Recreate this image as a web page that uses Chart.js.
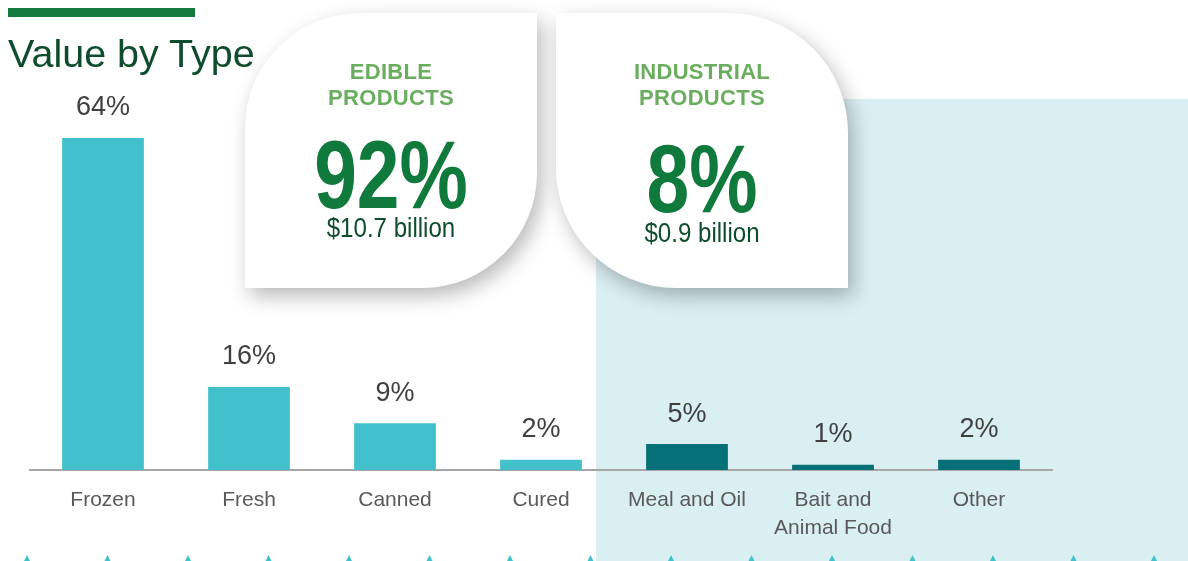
<!DOCTYPE html>
<html>
<head>
<meta charset="utf-8">
<script src="https://cdn.jsdelivr.net/npm/chart.js@4"></script>
<style>
  html, body { margin: 0; padding: 0; background: #fff; }
  body { width: 1188px; height: 561px; position: relative; overflow: hidden; font-family: 'Liberation Sans', Arial, sans-serif; }
  #panel { position: absolute; left: 596px; top: 99px; width: 592px; height: 462px; background: #daeff2; z-index: 0; }
  #chart { position: absolute; left: 0; top: 0; z-index: 1; }
  #topbar { position: absolute; left: 8px; top: 8px; width: 187px; height: 9px; background: #137a3d; z-index: 2; }
  #title { position: absolute; left: 8px; top: 34px; font-size: 39.5px; line-height: 39.5px; color: #0d4d2b; z-index: 2; white-space: nowrap; }
  .card { position: absolute; top: 13px; height: 275px; background: #fff; z-index: 3;
          box-shadow: 5px 8px 20px rgba(0,0,0,0.28); }
  #card1 { left: 245px; width: 292px; border-radius: 115px 0 115px 0; }
  #card2 { left: 556px; width: 292px; border-radius: 0 120px 0 120px; }
  .card div { position: absolute; left: 0; width: 100%; text-align: center; white-space: nowrap; }
  .head { font-size: 22px; line-height: 22px; font-weight: bold; color: #6aad5f; letter-spacing: 0.3px; }
  .big { font-size: 96px; line-height: 96px; font-weight: bold; color: #107a3d; transform: scaleX(0.8); }
  .sub { font-size: 28px; line-height: 28px; color: #0d4d2b; transform: scaleX(0.86); }
</style>
</head>
<body>
<div id="panel"></div>
<canvas id="chart" width="1188" height="561"></canvas>
<div id="topbar"></div>
<div id="title">Value by Type</div>
<div class="card" id="card1">
  <div class="head" style="top:48px">EDIBLE</div>
  <div class="head" style="top:74px">PRODUCTS</div>
  <div class="big" style="top:114px">92%</div>
  <div class="sub" style="top:201px">$10.7 billion</div>
</div>
<div class="card" id="card2">
  <div class="head" style="top:48px">INDUSTRIAL</div>
  <div class="head" style="top:74px">PRODUCTS</div>
  <div class="big" style="top:118px">8%</div>
  <div class="sub" style="top:206px">$0.9 billion</div>
</div>
<script>
// 資料
const categories = ['Frozen', 'Fresh', 'Canned', 'Cured', 'Meal and Oil', ['Bait and', 'Animal Food'], 'Other'];
const shares = [64, 16, 9, 2, 5, 1, 2];
const groups = ['edible', 'edible', 'edible', 'edible', 'industrial', 'industrial', 'industrial'];

const groupColors = { edible: '#42c1cc', industrial: '#057078' };

Chart.defaults.font.family = "'Liberation Sans', Arial, sans-serif";

// 柱上百分比
const valueLabels = {
    id: 'valueLabels',
    afterDatasetsDraw(chart) {
        const ctx = chart.ctx;
        const meta = chart.getDatasetMeta(0);
        ctx.save();
        ctx.font = "27px 'Liberation Sans', Arial, sans-serif";
        ctx.fillStyle = '#404040';
        ctx.textAlign = 'center';
        ctx.textBaseline = 'middle';
        meta.data.forEach((bar, i) => {
            ctx.fillText(shares[i] + '%', bar.x, bar.y - 30);
        });
        ctx.restore();
    }
};

// 底部小三角裝飾
const bottomMarks = {
    id: 'bottomMarks',
    afterDraw(chart) {
        const ctx = chart.ctx;
        ctx.save();
        ctx.fillStyle = '#42c1cc';
        for (let x = 27; x < 1188; x += 80.5) {
            ctx.beginPath();
            ctx.moveTo(x, 555);
            ctx.lineTo(x - 3, 561);
            ctx.lineTo(x + 3, 561);
            ctx.closePath();
            ctx.fill();
        }
        ctx.restore();
    }
};

const chart = new Chart(document.getElementById('chart').getContext('2d'), {
    type: 'bar',
    data: {
        labels: categories,
        datasets: [{
            data: shares,
            backgroundColor: groups.map(g => groupColors[g]),
            barPercentage: 0.56,
            categoryPercentage: 1
        }]
    },
    options: {
        responsive: false,
        animation: false,
        devicePixelRatio: 1,
        layout: { padding: { top: 138, left: 30, right: 136, bottom: 3 } },
        plugins: { legend: { display: false }, tooltip: { enabled: false } },
        scales: {
            x: {
                grid: { display: false, drawTicks: false, tickLength: 0 },
                border: { display: true, color: '#a6a6a6', width: 2 },
                ticks: {
                    color: '#595959',
                    padding: 16,
                    font: { size: 21, lineHeight: '28px' },
                    maxRotation: 0,
                    autoSkip: false
                }
            },
            y: { display: false, min: 0, max: 64 }
        }
    },
    plugins: [valueLabels, bottomMarks]
});
</script>
</body>
</html>
